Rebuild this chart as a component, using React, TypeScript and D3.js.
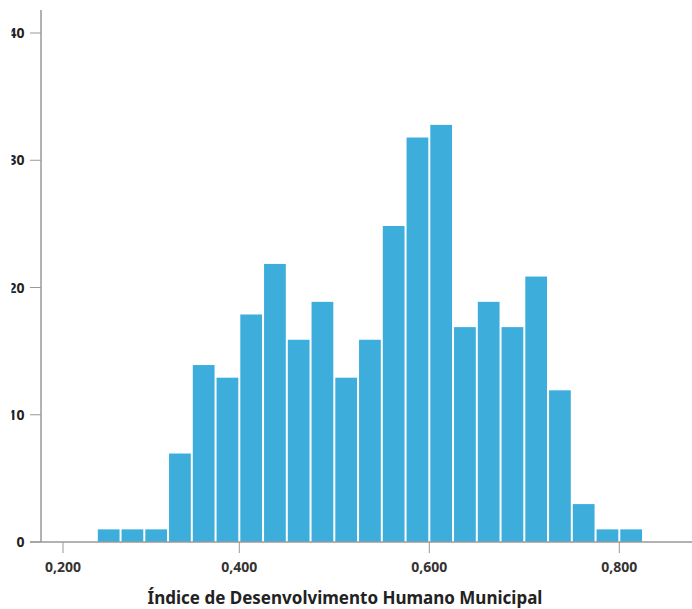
import React from "react";
import * as d3 from "d3";

const binStarts = [0.25,0.275,0.3,0.325,0.35,0.375,0.4,0.425,0.45,0.475,0.5,0.525,0.55,0.575,0.6,0.625,0.65,0.675,0.7,0.725,0.75,0.775,0.8];
const counts = [1,1,1,7,14,13,18,22,16,19,13,16,25,32,33,17,19,17,21,12,3,1,1];
const binWidth = 0.025;
const xTicks = [0.2, 0.4, 0.6, 0.8];
const yTicks = [0, 10, 20, 30, 40];
const xTitle = "Índice de Desenvolvimento Humano Municipal";

const W = 692, H = 609;

export default function App() {
  const x = d3.scaleLinear().domain([0.2, 0.25, 0.8]).range([63, 96.8, 619.3]);
  const y = d3.scaleLinear().domain([0, 40]).range([542, 33]);
  const yBar = d3.scaleLinear().domain([0, 40]).range([542, 36.4]);
  const fmt = (v: number) => d3.format(".3f")(v).replace(".", ",");
  const font = "'Noto Sans', 'Open Sans', sans-serif";
  return (
    <svg width={W} height={H} style={{ position: "absolute", left: 0, top: 0 }} fontFamily={font}>
      <defs>
        <clipPath id="ylab"><rect x={11.5} y={0} width={40} height={H} /></clipPath>
      </defs>
      {counts.map((c, i) => {
        const x0 = x(binStarts[i]);
        const x1 = x(binStarts[i] + binWidth);
        return <rect key={i} x={x0 + 1} y={yBar(c)} width={x1 - x0 - 2} height={yBar(0) - yBar(c)} fill="#3daedc" />;
      })}
      <line x1={41} x2={41} y1={10} y2={542} stroke="#999" strokeWidth={1.5} />
      <line x1={30} x2={W} y1={542} y2={542} stroke="#999" strokeWidth={1.5} />
      <g clipPath="url(#ylab)">
        {yTicks.map(t => (
          <text key={t} x={24.5} y={y(t)} dy="0.36em" textAnchor="end" fontSize={14} fontWeight="bold" fill="#222">{t}</text>
        ))}
      </g>
      {yTicks.map(t => (
        <line key={t} x1={30} x2={41} y1={y(t)} y2={y(t)} stroke="#999" strokeWidth={1} />
      ))}
      {xTicks.map(t => (
        <g key={t}>
          <line x1={x(t)} x2={x(t)} y1={542} y2={553} stroke="#999" strokeWidth={1} />
          <text x={x(t)} y={572} textAnchor="middle" fontSize={14} fontWeight="bold" fill="#333">{fmt(t)}</text>
        </g>
      ))}
      <text x={345} y={604} textAnchor="middle" fontSize={17} fontWeight="bold" fill="#222">{xTitle}</text>
    </svg>
  );
}
